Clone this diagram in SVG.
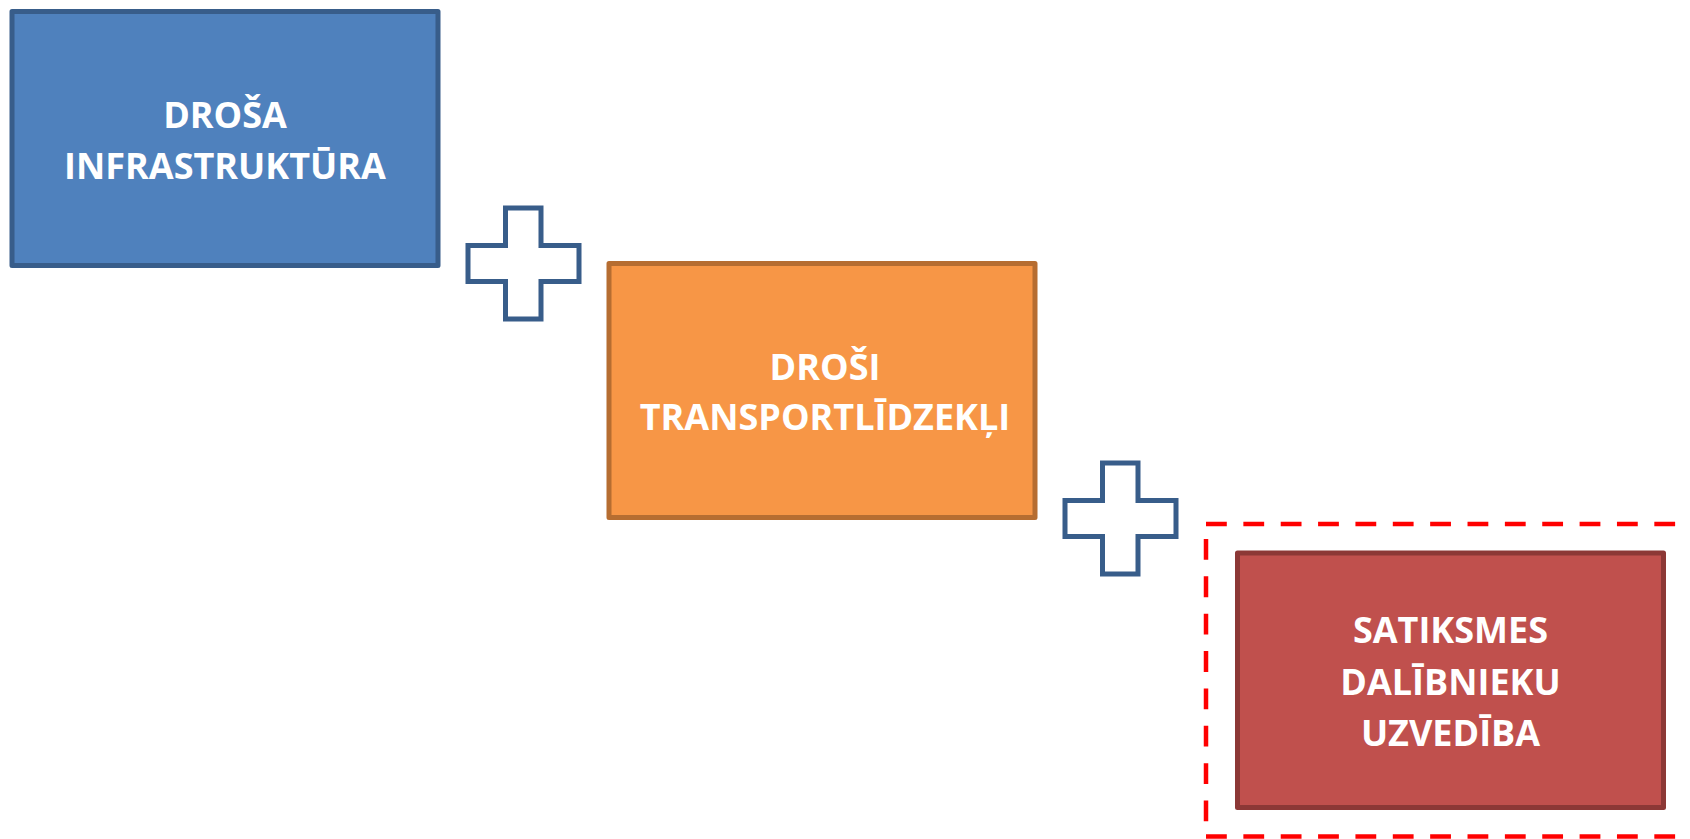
<svg xmlns="http://www.w3.org/2000/svg" width="1690" height="839" viewBox="0 0 1690 839">
<style>
.box{stroke-width:5;stroke-linejoin:round}
.lbl{font-family:"Open Sans","Liberation Sans",sans-serif;font-weight:bold;font-size:36px;fill:#FFFFFF;text-anchor:middle}
.plus{fill:#FFFFFF;stroke:#385D8A;stroke-width:5}
</style>
<rect width="1690" height="839" fill="#FFFFFF"/>
<g id="node-infra">
<rect class="box" x="12" y="11.5" width="426" height="254" fill="#4F81BD" stroke="#385D8A"/>
<text class="lbl" x="225" y="128">DROŠA</text>
<text class="lbl" x="225" y="179">INFRASTRUKTŪRA</text>
</g>
<g id="node-vehicles">
<rect class="box" x="609" y="263.5" width="426" height="254" fill="#F79646" stroke="#B66D31"/>
<text class="lbl" x="825" y="380">DROŠI</text>
<text class="lbl" x="825" y="430">TRANSPORTLĪDZEKĻI</text>
</g>
<g id="node-behaviour">
<rect class="box" x="1237.5" y="553" width="426" height="254.5" fill="#C0504D" stroke="#8C3836"/>
<text class="lbl" x="1450.5" y="643">SATIKSMES</text>
<text class="lbl" x="1450.5" y="695">DALĪBNIEKU</text>
<text class="lbl" x="1450.5" y="746">UZVEDĪBA</text>
</g>
<g id="connectors">
<path id="plus-1" class="plus" d="M505.5,208 H541 V245.5 H579 V281.5 H541 V319 H505.5 V281.5 H468 V245.5 H505.5 Z"/>
<path id="plus-2" class="plus" d="M1102.5,463 H1138 V500.5 H1176 V536.5 H1138 V574 H1102.5 V536.5 H1065 V500.5 H1102.5 Z"/>
</g>
<g id="highlight">
<path d="M1206,524 H1700 M1206,836.5 H1700 M1206,539 V836" fill="none" stroke="#FF0000" stroke-width="4.5" stroke-dasharray="20.8 16.56"/>
</g>
</svg>
